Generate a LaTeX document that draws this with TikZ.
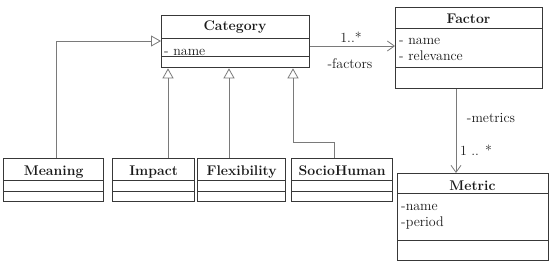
\documentclass[tikz,border=0pt]{standalone}
\usetikzlibrary{arrows.meta}
\definecolor{boxc}{HTML}{383838}
\definecolor{connc}{HTML}{7A7A7A}
\definecolor{txtc}{HTML}{1A1A1A}
\begin{document}
\begin{tikzpicture}[x=1pt,y=-1pt,
  classbox/.style={draw=boxc, line width=1.3pt, inner sep=0, anchor=north west},
  sepline/.style={draw=boxc, line width=0.9pt},
  ctitle/.style={font=\bfseries\fontsize{14}{16}\selectfont, text=txtc, inner sep=0, anchor=base},
  cattr/.style={font=\fontsize{14}{16}\selectfont, text=txtc, inner sep=0, anchor=base west},
  lbl/.style={font=\fontsize{14}{16}\selectfont, text=txtc, inner sep=0},
  conn/.style={draw=connc, line width=0.8pt},
  gen/.style={conn, -{Triangle[open, length=10pt, width=11pt, fill=white]}},
  assoc/.style={conn, -{Straight Barb[length=7pt, width=10pt, line width=0.8pt]}}
]
\useasboundingbox (0,0) rectangle (550,265);

% Category
\node[classbox, minimum width=148pt, minimum height=52pt] (cat) at (161,15) {};
\draw[sepline] (cat.west |- 0,38) -- (cat.east |- 0,38);
\draw[sepline] (cat.west |- 0,56) -- (cat.east |- 0,56);
\node[ctitle] (catt) at (235,30.5) {Category};
\node[cattr] (cata) at (164,55) {- name};

% Factor
\node[classbox, minimum width=147pt, minimum height=81pt] (fac) at (395,7) {};
\draw[sepline] (fac.west |- 0,28) -- (fac.east |- 0,28);
\draw[sepline] (fac.west |- 0,67) -- (fac.east |- 0,67);
\node[ctitle] (fact) at (468.5,23.3) {Factor};
\node[cattr] (faca) at (399,44) {- name};
\node[cattr] (facb) at (399,60.5) {- relevance};

% Metric
\node[classbox, minimum width=151pt, minimum height=87pt] (met) at (397,173) {};
\draw[sepline] (met.west |- 0,193) -- (met.east |- 0,193);
\draw[sepline] (met.west |- 0,240) -- (met.east |- 0,240);
\node[ctitle] (mett) at (472.5,190) {Metric};
\node[cattr] (meta) at (401,210.5) {-name};
\node[cattr] (metb) at (401,226) {-period};

% Subclasses
\node[classbox, minimum width=100pt, minimum height=43pt] (mean) at (3,158) {};
\node[classbox, minimum width=82pt, minimum height=43pt] (imp) at (112,158) {};
\node[classbox, minimum width=88pt, minimum height=43pt] (flex) at (197,158) {};
\node[classbox, minimum width=101pt, minimum height=43pt] (soc) at (291,158) {};
\foreach \n in {mean,imp,flex,soc}{
  \draw[sepline] (\n.west |- 0,180) -- (\n.east |- 0,180);
  \draw[sepline] (\n.west |- 0,191) -- (\n.east |- 0,191);
}
\node[ctitle] (meant) at (mean.north |- 0,175) {Meaning};
\node[ctitle] (impt) at (imp.north |- 0,175) {Impact};
\node[ctitle] (flext) at (flex.north |- 0,175) {Flexibility};
\node[ctitle] (soct) at (soc.north |- 0,175) {SocioHuman};

% Generalisations
\coordinate (mtop) at (mean.north -| 56,0);
\draw[gen] (mtop) |- (cat.west |- 0,41);
\draw[gen] (imp.north -| 168,0) -- (cat.south -| 168,0);
\draw[gen] (flex.north -| 229,0) -- (cat.south -| 229,0);
\coordinate (stop) at (soc.north -| 334,0);
\coordinate (sbend) at (334,142);
\draw[gen] (stop) -- (sbend) -| (cat.south -| 293,0);

% Associations
\draw[assoc] (cat.east |- 0,46) -- (fac.west |- 0,46);
\node[lbl] (m1) at (351,37) {1..*};
\node[lbl] (r1) at (350,64) {-factors};
\draw[assoc] (fac.south -| 456,0) -- (met.north -| 456,0);
\node[lbl] (r2) at (491,118) {-metrics};
\node[lbl] (m2) at (476,150) {1 .. *};
\end{tikzpicture}
\end{document}
